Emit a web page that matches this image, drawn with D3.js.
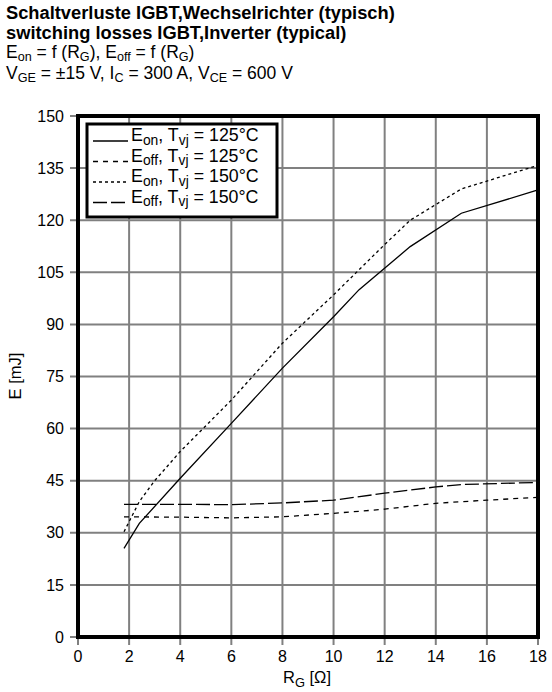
<!DOCTYPE html>
<html>
<head>
<meta charset="utf-8">
<script src="https://cdn.jsdelivr.net/npm/d3@7"></script>
<style>
  body { margin: 0; background: #fff; }
  svg { font-family: "Liberation Sans", Arial, sans-serif; }
  .grid line { stroke: #808080; stroke-width: 2; }
  .curve { fill: none; stroke: #000; stroke-width: 1.3; }
</style>
</head>
<body>
<svg id="svg" width="552" height="692"></svg>
<script>
// 数据：从图上读取
const xTicks = [0, 2, 4, 6, 8, 10, 12, 14, 16, 18];
const yTicks = [0, 15, 30, 45, 60, 75, 90, 105, 120, 135, 150];

const eon125 = [[1.8, 25.5], [2.4, 32.7], [4, 45.7], [6, 61.5], [8, 77.4], [10, 92.2], [11, 100], [13, 112.4], [15, 122], [18, 128.7]];
const eoff125 = [[1.8, 34.6], [4, 34.5], [6, 34.3], [8, 34.6], [10, 35.6], [12, 36.8], [14, 38.5], [16, 39.4], [18, 40.2]];
const eon150 = [[1.8, 30.3], [2.4, 39], [3, 45], [4, 53.4], [6, 68.2], [8, 84.6], [10, 98.5], [12, 113], [13, 120], [15, 129], [18, 135.8]];
const eoff150 = [[1.8, 38.2], [4, 38.2], [6, 38.1], [8, 38.6], [10, 39.4], [12, 41.4], [14, 43.2], [15, 43.9], [18, 44.5]];

const seriesNames = [["E", "on", "125"], ["E", "off", "125"], ["E", "on", "150"], ["E", "off", "150"]];
const seriesData = [eon125, eoff125, eon150, eoff150];
const dashes = [null, "5,5", "3,3", "14,4"];

const svg = d3.select('#svg');
const pL = 78, pR = 538, pT = 116, pB = 637;

const x = d3.scaleLinear().domain([0, 18]).range([pL, pR]);
const y = d3.scaleLinear().domain([0, 150]).range([pB, pT]);

// 标题
const head = svg.append('g').attr('fill', '#000').attr('font-size', 17.5);
head.append('text').attr('x', 6).attr('y', 19).attr('font-weight', 'bold').attr('font-size', 18.3)
  .text('Schaltverluste IGBT,Wechselrichter (typisch)');
head.append('text').attr('x', 6).attr('y', 39).attr('font-weight', 'bold').attr('font-size', 18.3)
  .text('switching losses IGBT,Inverter (typical)');

// 带下标的文本
function subText(sel, parts, off = 3.5, size = '0.78em') {
  parts.forEach(p => {
    if (p.sub) sel.append('tspan').attr('font-size', size).attr('dy', off).text(p.sub);
    if (p.t) sel.append('tspan').attr('dy', p.back ? -off : 0).text(p.t);
  });
}
const l3 = head.append('text').attr('x', 6).attr('y', 58);
subText(l3, [{ t: 'E' }, { sub: 'on' }, { t: ' = f (R', back: true }, { sub: 'G' }, { t: '), E', back: true }, { sub: 'off' }, { t: ' = f (R', back: true }, { sub: 'G' }, { t: ')', back: true }], 2.5, '0.72em');
const l4 = head.append('text').attr('x', 6).attr('y', 79);
subText(l4, [{ t: 'V' }, { sub: 'GE' }, { t: ' = ±15 V, I', back: true }, { sub: 'C' }, { t: ' = 300 A, V', back: true }, { sub: 'CE' }, { t: ' = 600 V', back: true }], 2.5, '0.72em');

// 网格
const grid = svg.append('g').attr('class', 'grid');
grid.selectAll('.vx').data(xTicks).join('line')
  .attr('x1', d => x(d)).attr('x2', d => x(d)).attr('y1', pT).attr('y2', pB + 8);
grid.selectAll('.hy').data(yTicks).join('line')
  .attr('x1', pL - 8).attr('x2', pR).attr('y1', d => y(d)).attr('y2', d => y(d));

// 刻度标签
svg.append('g').selectAll('text').data(yTicks).join('text')
  .attr('x', 64).attr('y', d => y(d)).attr('dy', '0.35em')
  .attr('text-anchor', 'end').attr('font-size', 16).text(d => d);
svg.append('g').selectAll('text').data(xTicks).join('text')
  .attr('x', d => x(d)).attr('y', 662)
  .attr('text-anchor', 'middle').attr('font-size', 16).text(d => d);

// 轴标题
const xt = svg.append('text').attr('x', 307).attr('y', 683).attr('text-anchor', 'middle').attr('font-size', 16.5);
subText(xt, [{ t: 'R' }, { sub: 'G' }, { t: ' [Ω]', back: true }]);
svg.append('text').attr('transform', 'translate(21,376) rotate(-90)')
  .attr('text-anchor', 'middle').attr('font-size', 16.5).text('E [mJ]');

// 曲线
const line = d3.line().x(d => x(d[0])).y(d => y(d[1]));
seriesData.forEach((s, i) => {
  svg.append('path').attr('class', 'curve')
    .attr('stroke-dasharray', dashes[i])
    .attr('d', line(s));
});

// 外框
svg.append('rect').attr('x', pL).attr('y', pT)
  .attr('width', pR - pL).attr('height', pB - pT)
  .attr('fill', 'none').attr('stroke', '#000').attr('stroke-width', 4);

// 图例
const lg = svg.append('g');
lg.append('rect').attr('x', 87).attr('y', 124).attr('width', 190).attr('height', 93)
  .attr('fill', '#fff').attr('stroke', '#000').attr('stroke-width', 3);
seriesNames.forEach((n, i) => {
  const yy = 141 + i * 20.5;
  lg.append('line').attr('class', 'curve').attr('x1', 93).attr('x2', 128)
    .attr('y1', yy).attr('y2', yy).attr('stroke-dasharray', dashes[i]);
  const t = lg.append('text').attr('x', 131).attr('y', yy).attr('dy', '0.35em').attr('font-size', 17.8);
  subText(t, [{ t: n[0] }, { sub: n[1] }, { t: ', T', back: true }, { sub: 'vj' }, { t: ' = ' + n[2] + '°C', back: true }]);
});
</script>
</body>
</html>
